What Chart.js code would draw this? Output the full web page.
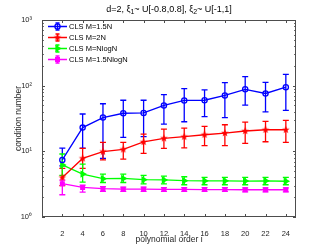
<!DOCTYPE html>
<html>
<head>
<meta charset="utf-8">
<script src="https://cdn.jsdelivr.net/npm/chart.js@4.4.0/dist/chart.umd.min.js"></script>
<style>
  html, body { margin: 0; padding: 0; background: #fff; }
  #wrap { width: 327px; height: 245px; }
</style>
</head>
<body>
<div id="wrap"><canvas id="cond"></canvas></div>
<script>
// polynomial orders on the x axis
const orders = [2, 4, 6, 8, 10, 12, 14, 16, 18, 20, 22, 24];
const xTicks = [2, 4, 6, 8, 10, 12, 14, 16, 18, 20, 22, 24];
const yTicks = [1, 10, 100, 1000];

const labels = ['CLS M=1.5N', 'CLS M=2N', 'CLS M=NlogN', 'CLS M=1.5NlogN'];

// mean condition numbers and error bar ends
const blueMean = [7.4, 23, 32.7, 38, 38.5, 50, 59.5, 60, 71, 88, 76, 95];
const blueHi   = [11.2, 37, 53, 60, 60, 73, 90, 86, 111, 137, 112, 149];
const blueLo   = [6.0, 11.2, 7.8, 16.3, 16.7, 26, 28.2, 33.8, 32.5, 50.7, 40, 42];

const redMean = [4.0, 7.8, 9.9, 10.7, 13.9, 15.8, 16.7, 17.9, 19, 20.4, 21.3, 21.3];
const redHi   = [5.5, 11.1, 13.7, 13.7, 18.3, 21.8, 22.5, 24, 25.4, 27.9, 28.5, 29.6];
const redLo   = [3.0, 5.5, 7.4, 7.6, 9.3, 11.1, 11.3, 12.2, 12.2, 13.2, 14, 13.7];

const greenMean = [6.2, 4.5, 3.83, 3.87, 3.7, 3.67, 3.57, 3.55, 3.55, 3.53, 3.55, 3.5];
const greenHi   = [9.1, 6.4, 4.5, 4.5, 4.3, 4.2, 4.1, 4.0, 4.0, 4.0, 4.0, 4.0];
const greenLo   = [4.3, 3.4, 3.35, 3.35, 3.2, 3.2, 3.1, 3.1, 3.1, 3.1, 3.1, 3.1];

const magMean = [3.22, 2.82, 2.7, 2.65, 2.65, 2.63, 2.63, 2.62, 2.62, 2.6, 2.6, 2.6];
const magHi   = [3.65, 3.05, 2.9, 2.85, 2.85, 2.8, 2.8, 2.8, 2.8, 2.78, 2.78, 2.78];
const magLo   = [2.18, 2.4, 2.45, 2.45, 2.45, 2.45, 2.45, 2.45, 2.45, 2.42, 2.42, 2.42];

const FONT = 'Liberation Sans, Arial, sans-serif';
const AXIS = '#4d4d4d';

// filled 5-point star marker (matlab 'p')
function starMarker(color, r) {
  const c = document.createElement('canvas');
  const s = Math.ceil(r * 2 + 2);
  c.width = s; c.height = s;
  const g = c.getContext('2d');
  g.beginPath();
  for (let i = 0; i < 10; i++) {
    const rad = i % 2 === 0 ? r : r * 0.42;
    const a = -Math.PI / 2 + i * Math.PI / 5;
    const px = s / 2 + rad * Math.cos(a), py = s / 2 + rad * Math.sin(a);
    if (i === 0) g.moveTo(px, py); else g.lineTo(px, py);
  }
  g.closePath();
  g.fillStyle = color;
  g.fill();
  return c;
}
const redStar = starMarker('#ff0000', 4);

function pts(vals) {
  return orders.map((x, i) => ({ x: x, y: vals[i] }));
}

const series = [
  { label: labels[0], color: '#0000ff', mean: blueMean, hi: blueHi, lo: blueLo,
    pointStyle: 'circle', radius: 2.6, fill: 'rgba(0,0,0,0)', rot: 0 },
  { label: labels[1], color: '#ff0000', mean: redMean, hi: redHi, lo: redLo,
    pointStyle: redStar, radius: 4, fill: '#ff0000', rot: 0 },
  { label: labels[2], color: '#00ff00', mean: greenMean, hi: greenHi, lo: greenLo,
    pointStyle: 'triangle', radius: 3, fill: '#00ff00', rot: 90 },
  { label: labels[3], color: '#ff00ff', mean: magMean, hi: magHi, lo: magLo,
    pointStyle: 'rect', radius: 2.6, fill: '#ff00ff', rot: 0 },
];

// title with real subscripts
function drawTitle(ctx, cx, cy) {
  const parts = [
    ['d=2, ξ', 0], ['1', 1], ['~ U[-0.8,0.8], ξ', 0], ['2', 1], ['~ U[-1,1]', 0],
  ];
  const big = '9px ' + FONT, small = '7px ' + FONT;
  let w = 0;
  parts.forEach(([t, sub]) => { ctx.font = sub ? small : big; w += ctx.measureText(t).width; });
  let px = cx - w / 2;
  ctx.textAlign = 'left';
  ctx.textBaseline = 'alphabetic';
  parts.forEach(([t, sub]) => {
    ctx.font = sub ? small : big;
    ctx.fillText(t, px, sub ? cy + 5 : cy + 3);
    px += ctx.measureText(t).width;
  });
}

// error bars, box, inward ticks, title and legend
const matlabLook = {
  id: 'matlabLook',
  beforeDatasetsDraw(chart) {
    const { ctx, scales: { x, y } } = chart;
    ctx.save();
    ctx.lineWidth = 1.3;
    chart.data.datasets.forEach((ds) => {
      ctx.strokeStyle = ds.borderColor;
      ds.data.forEach((p, i) => {
        const px = x.getPixelForValue(p.x);
        const top = y.getPixelForValue(ds.hi[i]);
        const bot = y.getPixelForValue(ds.lo[i]);
        ctx.beginPath();
        ctx.moveTo(px, top); ctx.lineTo(px, bot);
        ctx.moveTo(px - 3, top); ctx.lineTo(px + 3, top);
        ctx.moveTo(px - 3, bot); ctx.lineTo(px + 3, bot);
        ctx.stroke();
      });
    });
    ctx.restore();
  },
  afterDraw(chart) {
    const { ctx, chartArea: a, scales: { x, y } } = chart;
    ctx.save();
    ctx.strokeStyle = AXIS;
    ctx.lineWidth = 1;
    ctx.strokeRect(a.left + 0.5, a.top + 0.5, a.right - a.left - 1, a.bottom - a.top - 1);
    ctx.beginPath();
    xTicks.forEach((v) => {
      const px = Math.round(x.getPixelForValue(v)) + 0.5;
      ctx.moveTo(px, a.bottom); ctx.lineTo(px, a.bottom - 3);
      ctx.moveTo(px, a.top); ctx.lineTo(px, a.top + 3);
    });
    for (let d = 1; d < 1000; d *= 10) {
      for (let m = 1; m < 10; m++) {
        const py = Math.round(y.getPixelForValue(d * m)) + 0.5;
        const len = m === 1 ? 3 : 1.8;
        ctx.moveTo(a.left, py); ctx.lineTo(a.left + len, py);
        ctx.moveTo(a.right, py); ctx.lineTo(a.right - len, py);
      }
    }
    ctx.stroke();

    ctx.fillStyle = '#000';
    drawTitle(ctx, (a.left + a.right) / 2, 8.5);

    // legend
    ctx.font = '7.5px ' + FONT;
    ctx.textAlign = 'left';
    ctx.textBaseline = 'middle';
    chart.data.datasets.forEach((ds, i) => {
      const ly = 26.5 + i * 11;
      ctx.strokeStyle = ds.borderColor;
      ctx.lineWidth = 1.3;
      ctx.beginPath();
      ctx.moveTo(48, ly); ctx.lineTo(67, ly);
      ctx.moveTo(57.5, ly - 3.5); ctx.lineTo(57.5, ly + 3.5);
      ctx.moveTo(55.5, ly - 3.5); ctx.lineTo(59.5, ly - 3.5);
      ctx.moveTo(55.5, ly + 3.5); ctx.lineTo(59.5, ly + 3.5);
      ctx.stroke();
      ctx.fillStyle = ds.pointBackgroundColor;
      ctx.strokeStyle = ds.pointBorderColor;
      Chart.helpers.drawPoint(ctx, {
        pointStyle: ds.pointStyle, rotation: ds.pointRotation,
        radius: ds.pointRadius, borderWidth: 1.3
      }, 57.5, ly);
      ctx.fillStyle = '#000';
      ctx.fillText(ds.label, 69, ly + 0.5);
    });
    ctx.restore();
  }
};

const datasets = series.map((s) => ({
  label: s.label,
  data: pts(s.mean),
  hi: s.hi,
  lo: s.lo,
  borderColor: s.color,
  backgroundColor: s.fill,
  pointBackgroundColor: s.fill,
  pointBorderColor: s.color,
  pointStyle: s.pointStyle,
  pointRadius: s.radius,
  pointRotation: s.rot,
  pointBorderWidth: 1.3,
  borderWidth: 1.3,
  tension: 0,
}));

new Chart(document.getElementById('cond'), {
  type: 'line',
  data: { datasets: datasets },
  options: {
    responsive: true,
    maintainAspectRatio: false,
    animation: false,
    layout: { padding: { top: 20, right: 31, left: 0, bottom: 0 } },
    plugins: {
      legend: { display: false },
      tooltip: { enabled: false },
      title: { display: false },
    },
    scales: {
      x: {
        type: 'linear',
        min: 0, max: 25,
        afterBuildTicks: (sc) => { sc.ticks = xTicks.map((v) => ({ value: v })); },
        afterFit: (sc) => { sc.height = 28; },
        grid: { display: false },
        border: { display: false },
        ticks: { color: '#262626', font: { size: 7.5, family: FONT }, padding: 4, maxRotation: 0 },
        title: { display: true, text: 'polynomial order i', color: '#262626',
                 font: { size: 8.5, family: FONT }, padding: { top: 2, bottom: 0 } },
      },
      y: {
        type: 'logarithmic',
        min: 1, max: 1000,
        afterBuildTicks: (sc) => { sc.ticks = yTicks.map((v) => ({ value: v })); },
        afterFit: (sc) => { sc.width = 42; },
        grid: { display: false },
        border: { display: false },
        ticks: {
          color: '#262626', font: { size: 7.5, family: FONT }, padding: 2,
          callback: (v) => '10' + ['⁰', '¹', '²', '³'][Math.round(Math.log10(v))],
        },
        title: { display: true, text: 'condition number', color: '#262626',
                 font: { size: 8.5, family: FONT }, padding: { top: 14, bottom: 0 } },
      },
    },
  },
  plugins: [matlabLook],
});
</script>
</body>
</html>
